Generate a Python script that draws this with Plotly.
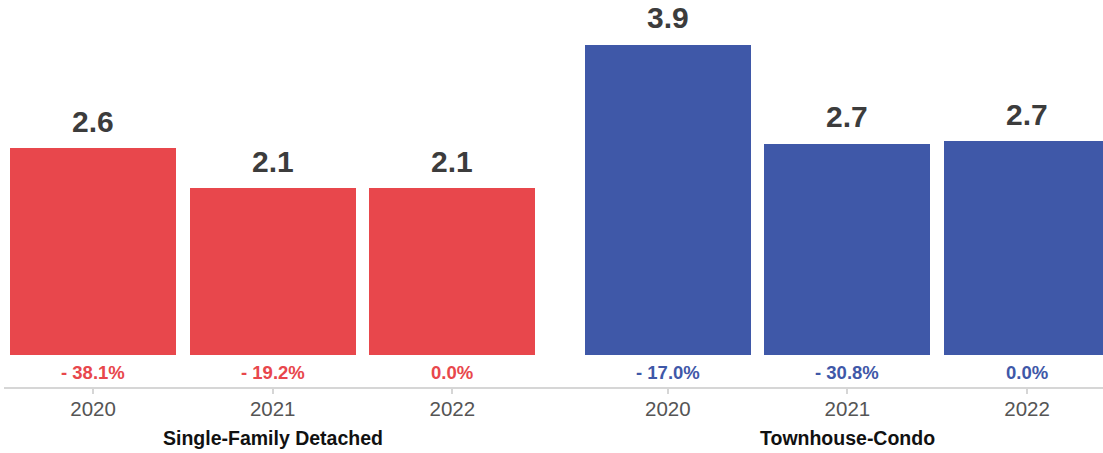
import plotly.graph_objects as go

# Months of supply by property type and year
groups = ["Single-Family Detached", "Townhouse-Condo"]
years = ["2020", "2021", "2022"]
single_family = [2.6, 2.1, 2.1]
townhouse_condo = [3.9, 2.66, 2.69]
single_family_change = [-38.1, -19.2, 0.0]
townhouse_condo_change = [-17.0, -30.8, 0.0]

RED = "#E8474C"
BLUE = "#3F58A8"
FONT = "Helvetica Neue, Helvetica, Arial, Liberation Sans, sans-serif"

group_gap = 1.2  # slot offset between the first bar of each group
positions_sf = [i for i in range(len(years))]
positions_tc = [len(years) - 1 + group_gap + i for i in range(len(years))]


def fmt_change(v):
    if v < 0:
        return f"- {abs(v):.1f}%"
    return f"{v:.1f}%"


fig = go.Figure()
for xs, ys, color in [(positions_sf, single_family, RED), (positions_tc, townhouse_condo, BLUE)]:
    fig.add_trace(go.Bar(
        x=xs, y=ys, width=0.925, marker=dict(color=color, line=dict(width=0)),
        hoverinfo="skip", showlegend=False,
    ))

annotations = []
for xs, ys, changes, color in [
    (positions_sf, single_family, single_family_change, RED),
    (positions_tc, townhouse_condo, townhouse_condo_change, BLUE),
]:
    for x, y, c in zip(xs, ys, changes):
        annotations.append(dict(
            x=x, y=y, xref="x", yref="y", text=f"{y:.1f}", showarrow=False,
            yanchor="middle", yshift=27,
            font=dict(family=FONT, size=30, color="#3c3c3c", weight="bold"),
        ))
        annotations.append(dict(
            x=x, y=0, xref="x", yref="y", text=fmt_change(c), showarrow=False,
            yanchor="middle", yshift=-17,
            font=dict(family=FONT, size=18.5, color=color, weight="bold"),
        ))

for name, xs in [(groups[0], positions_sf), (groups[1], positions_tc)]:
    annotations.append(dict(
        x=sum(xs) / len(xs), y=0, xref="x", yref="paper", text=name,
        showarrow=False, yanchor="middle", yshift=-51,
        font=dict(family=FONT, size=19.5, color="#111111", weight="bold"),
    ))

fig.update_layout(
    width=1103, height=453,
    margin=dict(l=4, r=0, t=0, b=66),
    paper_bgcolor="white", plot_bgcolor="white",
    annotations=annotations,
    bargap=0,
    xaxis=dict(
        range=[-0.496, 5.623],
        tickvals=positions_sf + positions_tc,
        ticktext=years + years,
        showline=True, linecolor="#d6d6d6", linewidth=2,
        ticks="outside", ticklen=5, tickcolor="#d6d6d6", tickwidth=2,
        ticklabelstandoff=-3,
        tickfont=dict(family=FONT, size=20.5, color="#555555"),
        showgrid=False, zeroline=False, fixedrange=True,
    ),
    yaxis=dict(
        range=[-0.4025, 4.465], visible=False, showgrid=False, zeroline=False,
        fixedrange=True,
    ),
)

fig.write_html("out.html")
